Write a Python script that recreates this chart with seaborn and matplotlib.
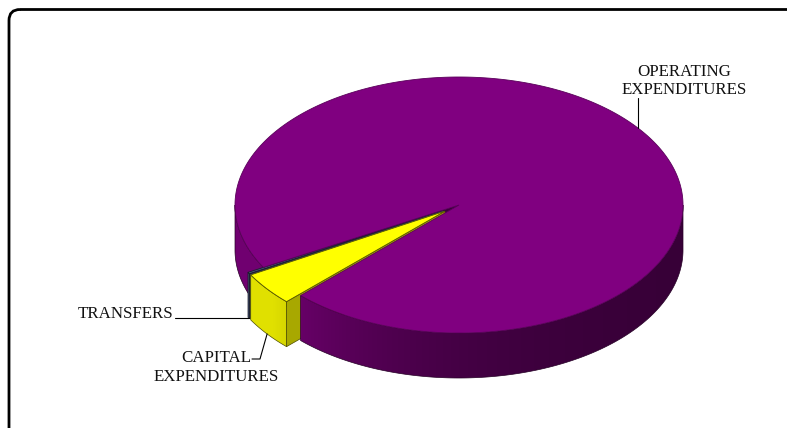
import numpy as np
import matplotlib
matplotlib.use("Agg")
import matplotlib.pyplot as plt
from matplotlib.patches import Polygon, FancyBboxPatch
from matplotlib.colors import to_rgb
import seaborn as sns

# ---- data -------------------------------------------------------------
categories = ["OPERATING\nEXPENDITURES", "TRANSFERS", "CAPITAL\nEXPENDITURES"]
shares = [95.6, 0.2, 4.2]
slice_colors = ["#800080", "#4a5578", "#ffff00"]
explode = [0.0, 0.079, 0.079]

# ---- style ------------------------------------------------------------
sns.set_theme(style="white")
plt.rcParams["font.family"] = ["Liberation Serif", "DejaVu Serif"]

W, H, DPI = 787, 428, 100
fig = plt.figure(figsize=(W / DPI, H / DPI), dpi=DPI)
ax = fig.add_axes([0, 0, 1, 1])
ax.set_xlim(0, W)
ax.set_ylim(H, 0)
ax.axis("off")

# pie geometry (screen units)
CX, CY, RX, RY, DEPTH = 459.0, 205.0, 224.0, 128.0, 45.0
START = 225.0  # degrees, counter-clockwise


def rim(t_deg, ox=0.0, oy=0.0, dz=0.0):
    t = np.radians(t_deg)
    return CX + RX * np.cos(t) + ox, CY - RY * np.sin(t) + oy + dz


def wall_light(x):
    """Brightness of the outer wall: lit from the left, falling off to the right."""
    return np.clip(0.4 + 0.4 * np.exp(-(x - 300.0) / 150.0), 0.0, 0.88)


def draw_side(a, b, rgb, ox, oy, z):
    """Outer wall for the visible (front) part of angle range [a, b]."""
    for k in range(-1, 3):
        lo, hi = max(a, 180 + 360 * k), min(b, 360 + 360 * k)
        if hi <= lo:
            continue
        ts = np.linspace(lo, hi, 300)
        top = [rim(t, ox, oy) for t in ts]
        bot = [rim(t, ox, oy, DEPTH) for t in ts[::-1]]
        poly = Polygon(top + bot, closed=True, fc="none",
                       ec=tuple(np.array(rgb) * 0.3), lw=0.5, zorder=z + 0.1)
        ax.add_patch(poly)
        xs = np.array([p[0] for p in top])
        x0, x1 = xs.min() - 2, xs.max() + 2
        y0 = min(p[1] for p in top) - 2
        y1 = max(p[1] for p in bot) + 2
        gx = np.linspace(x0, x1, 400)
        img = np.array(rgb)[None, None, :] * wall_light(gx)[None, :, None]
        im = ax.imshow(img, extent=(x0, x1, y1, y0), aspect="auto",
                       interpolation="bilinear", zorder=z)
        im.set_clip_path(poly)


def draw_top(a, b, rgb, ox, oy, z, edge):
    ts = np.linspace(a, b, max(3, int(b - a) * 2 + 2))
    pts = [(CX + ox, CY + oy)] + [rim(t, ox, oy) for t in ts]
    ax.add_patch(Polygon(pts, closed=True, fc=rgb, ec=edge, lw=0.6, zorder=z))


def draw_radial(t, rgb, ox, oy, z, f=0.55):
    c = tuple(np.array(rgb) * f)
    pts = [(CX + ox, CY + oy), rim(t, ox, oy), rim(t, ox, oy, DEPTH),
           (CX + ox, CY + oy + DEPTH)]
    ax.add_patch(Polygon(pts, closed=True, fc=c, ec=tuple(np.array(rgb) * 0.3),
                         lw=0.5, zorder=z))


# slice angles from the shares
total = float(sum(shares))
spans = [360.0 * s / total for s in shares]
bounds = []
a = START
for sp in spans:
    bounds.append((a, a + sp))
    a += sp

offsets = []
for (a0, a1), e in zip(bounds, explode):
    mid = np.radians(0.5 * (a0 + a1))
    offsets.append((e * RX * np.cos(mid), -e * RY * np.sin(mid)))

# big slice: rear-left wall and its cut face first
(a0, a1), (ox, oy) = bounds[0], offsets[0]
rgb0 = to_rgb(slice_colors[0])
draw_side(max(a0, 540.0), a1, rgb0, ox, oy, z=1)
draw_radial(a1, rgb0, ox, oy, z=1.5, f=0.45)

# exploded small slices
for i in (1, 2):
    (b0, b1), (sx, sy) = bounds[i], offsets[i]
    rgb = to_rgb(slice_colors[i])
    z = 2 + i
    draw_side(b0, b1, rgb, sx, sy, z=z)
    draw_radial(b1, rgb, sx, sy, z=z + 0.2, f=0.66)
    draw_top(b0, b1, rgb, sx, sy, z=z + 0.4, edge=tuple(np.array(rgb) * 0.35))

# big slice: front wall and top
draw_side(a0, min(a1, 360.0), rgb0, ox, oy, z=6)
draw_top(a0, a1, rgb0, ox, oy, z=7, edge="#5a005a")

# ---- labels and leader lines -------------------------------------------
font = dict(fontsize=12.2, color="#111111")
lw_lead = 0.8

# operating expenditures: leader from the top rim straight up
mid0 = 0.5 * (a0 + a1)
px, py = rim(mid0, ox, oy)
ax.plot([px, px], [py, 98], color="black", lw=lw_lead, zorder=8)
for j, line in enumerate(categories[0].split("\n")):
    ax.text(684, 75.5 + 18.5 * j, line, ha="center", va="baseline", **font)

# transfers: horizontal leader to the bottom rim
b0, b1 = bounds[1]
sx, sy = offsets[1]
px, py = rim(0.5 * (b0 + b1), sx, sy, DEPTH)
ax.plot([px, 175], [py, py], color="black", lw=lw_lead, zorder=8)
ax.text(173, py, categories[1], ha="right", va="baseline", **font)

# capital expenditures: short elbow leader
b0, b1 = bounds[2]
sx, sy = offsets[2]
px, py = rim(0.5 * (b0 + b1), sx, sy, DEPTH)
ax.plot([px, 260, 252], [py, 359, 359], color="black", lw=lw_lead, zorder=8)
for j, line in enumerate(categories[2].split("\n")):
    ax.text(216, 362 + 19 * j, line, ha="center", va="baseline", **font)

# rounded outer frame
ax.add_patch(FancyBboxPatch((9, 9.5), 820, 460,
                            boxstyle="round,pad=0,rounding_size=11",
                            fc="none", ec="black", lw=2.0, zorder=10))

fig.savefig("out.png", dpi=DPI)
